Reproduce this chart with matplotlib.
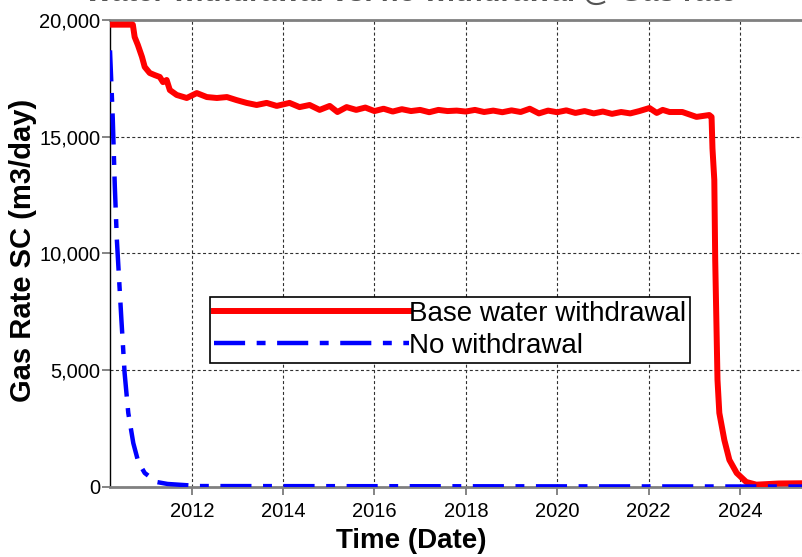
import matplotlib
matplotlib.use('Agg')
import matplotlib.pyplot as plt
import numpy as np

plt.rcParams['font.family'] = ['Liberation Sans', 'DejaVu Sans']

# decimal years and gas rate (m3/day)
base_t = [2010.21, 2010.71, 2010.75, 2010.82, 2010.91, 2010.97, 2011.08, 2011.19, 2011.30,
          2011.37, 2011.45, 2011.52, 2011.67, 2011.89, 2012.11, 2012.33, 2012.55, 2012.77,
          2012.98, 2013.20, 2013.42, 2013.64, 2013.86, 2014.14, 2014.36, 2014.58, 2014.80,
          2015.02, 2015.19, 2015.39, 2015.6, 2015.8, 2016.0, 2016.2, 2016.4, 2016.6, 2016.8,
          2017.0, 2017.2, 2017.4, 2017.6, 2017.8, 2018.0, 2018.2, 2018.4, 2018.6, 2018.8,
          2019.0, 2019.2, 2019.4, 2019.6, 2019.8, 2020.0, 2020.2, 2020.4, 2020.6, 2020.8,
          2021.0, 2021.2, 2021.4, 2021.6, 2021.8, 2022.02, 2022.18, 2022.31, 2022.46,
          2022.74, 2023.05, 2023.33, 2023.38, 2023.40, 2023.44, 2023.46, 2023.51, 2023.55,
          2023.66, 2023.77, 2023.93, 2024.14, 2024.36, 2024.85, 2025.36]
base_q = [19800, 19800, 19270, 18930, 18420, 17990, 17730, 17640, 17560,
          17340, 17430, 17000, 16790, 16660, 16870, 16700, 16660, 16700,
          16570, 16450, 16360, 16450, 16320, 16450, 16270, 16360, 16150,
          16320, 16060, 16270, 16150, 16250, 16100, 16200, 16080, 16180, 16100,
          16150, 16050, 16150, 16100, 16120, 16080, 16150, 16060, 16120, 16050,
          16130, 16060, 16200, 16000, 16120, 16050, 16130, 16020, 16100, 16000,
          16080, 15980, 16060, 16000, 16100, 16230, 16020, 16150, 16060,
          16060, 15850, 15930, 15850, 14500, 13150, 9720, 4580, 3170,
          2010, 1160, 600, 214, 100, 150, 160]

none_t = [2010.21, 2010.27, 2010.315, 2010.36, 2010.41, 2010.46, 2010.53, 2010.61,
          2010.72, 2010.83, 2010.97, 2011.23, 2011.47, 2012.17, 2025.36]
none_q = [18700, 15800, 12900, 10600, 8870, 7150, 4880, 3170,
          1880, 1070, 600, 214, 130, 40, 20]

years = [2012, 2014, 2016, 2018, 2020, 2022, 2024]
yticks = [0, 5000, 10000, 15000, 20000]

fig = plt.figure(figsize=(8.02, 5.57), dpi=100)
ax = fig.add_axes([110/802, 1-487/557, 1-110/802, 467/557])

ax.plot(base_t, base_q, color='#ff0000', lw=4.3, label='Base water withdrawal', zorder=3)
ax.plot(none_t, none_q, color='#0000ff', lw=3.2, dashes=(7, 2.6, 2, 2.6),
        label='No withdrawal', zorder=4)

ax.set_xlim(2010.21, 2025.36)
ax.set_ylim(0, 20000)
ax.set_xticks(years)
ax.set_xticklabels([str(y) for y in years])
ax.set_yticks(yticks)
ax.set_yticklabels(['{:,}'.format(v) for v in yticks])
ax.tick_params(axis='both', labelsize=14.5, colors='#707070', labelcolor='black')
ax.tick_params(axis='y', length=6, width=1.2, pad=1)
ax.tick_params(axis='x', length=6, width=1.2, pad=5)

ax.grid(True, color='#303030', lw=0.8, linestyle=(0, (2.7, 2.2)))
ax.spines['right'].set_visible(False)
ax.spines['left'].set_color('black')
ax.spines['left'].set_linewidth(1)
ax.spines['top'].set_color('#808080')
ax.spines['top'].set_linewidth(2)
ax.spines['bottom'].set_color('#808080')
ax.spines['bottom'].set_linewidth(2)

leg = ax.legend(loc='upper left', bbox_to_anchor=(210/802, 1-297/557),
                bbox_transform=fig.transFigure, fontsize=20, handlelength=7,
                handletextpad=0.0, borderpad=0.15, labelspacing=0.2,
                borderaxespad=0, fancybox=False, framealpha=1)
leg.get_frame().set_edgecolor('black')
leg.get_frame().set_linewidth(1.2)

fig.text(411/802, 1-541/557, 'Time (Date)', fontsize=20, fontweight='bold',
         ha='center', va='center')
fig.text(23/802, 1-250/557, 'Gas Rate SC (m3/day)', fontsize=21, fontweight='bold',
         rotation=90, ha='center', va='center')
# title sits mostly above the visible area, as in the source image
fig.text(411/802, 1-0.5/557, 'Water withdrawal vs. no withdrawal @ Gas rate', fontsize=21,
         fontweight='bold', color='#555555', ha='center', va='baseline')

fig.savefig('out.png', dpi=100)
